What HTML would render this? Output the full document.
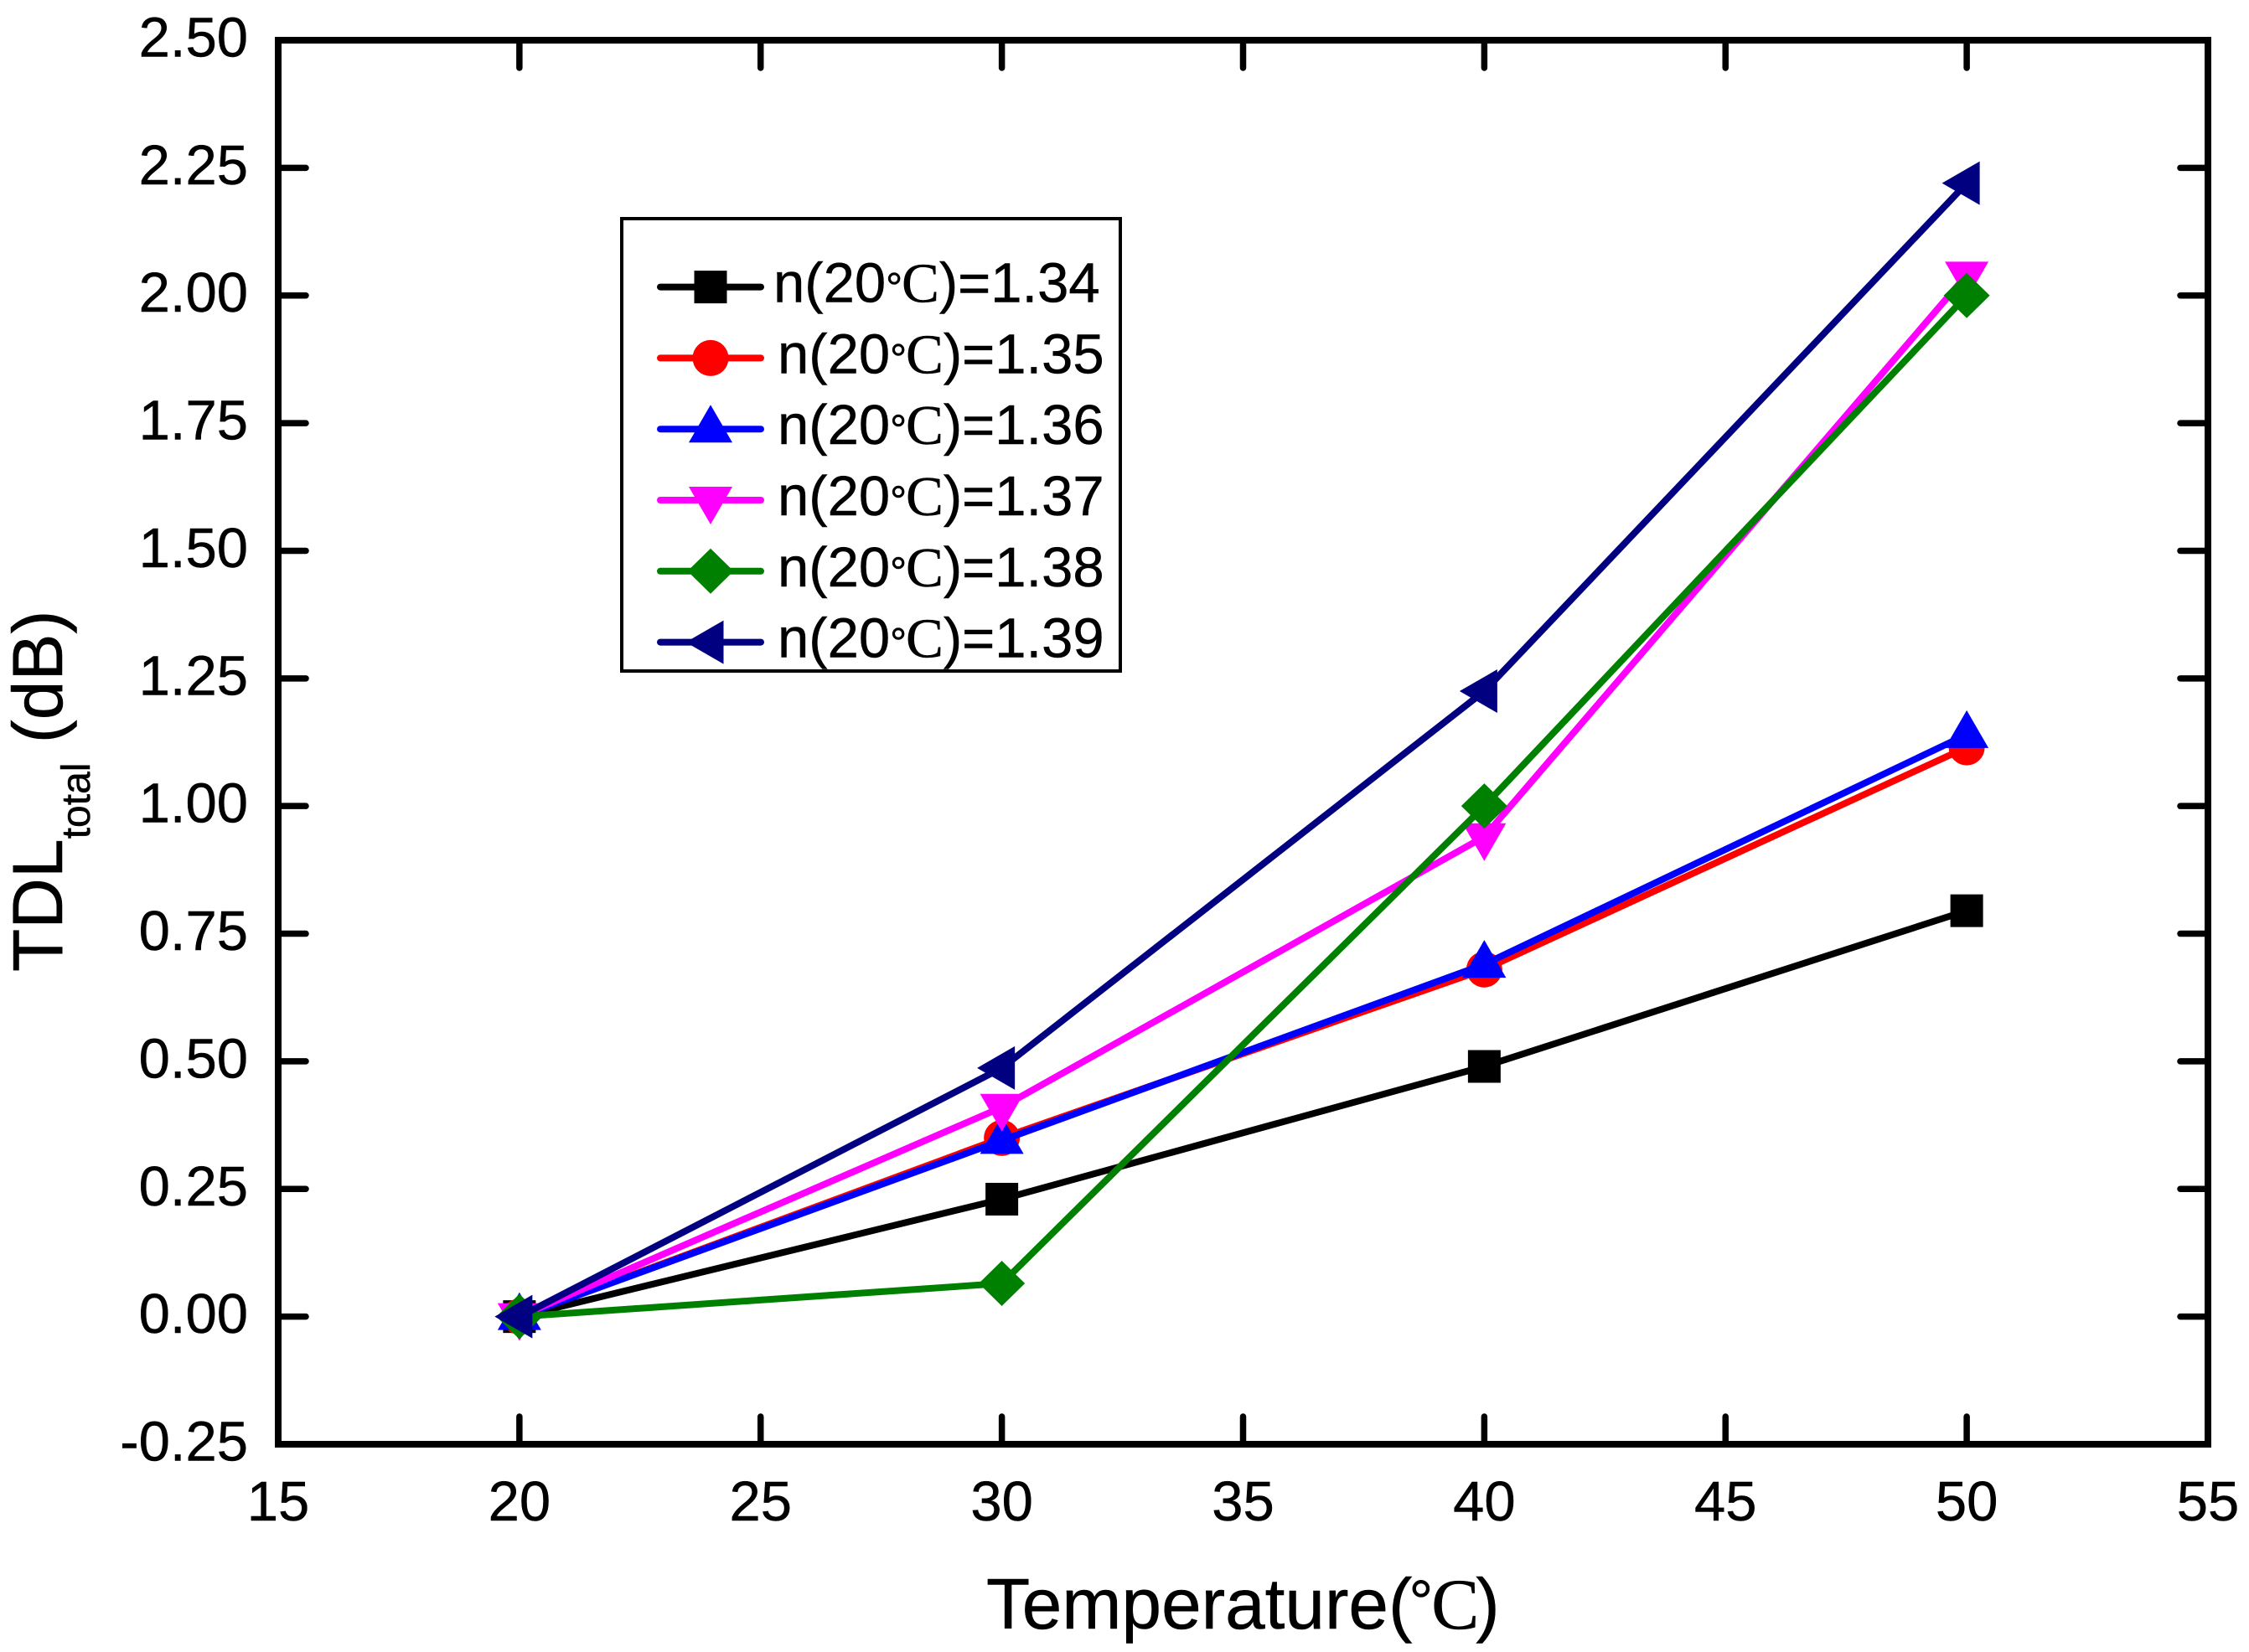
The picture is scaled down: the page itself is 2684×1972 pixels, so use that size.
<!DOCTYPE html>
<html lang="en">
<head>
<meta charset="utf-8">
<title>TDL total vs Temperature</title>
<style>
html,body{margin:0;padding:0;background:#fff}
svg{display:block}
text{font-family:"Liberation Sans",Arial,sans-serif;fill:#000;stroke:#000;stroke-width:.5}
.serif{font-family:"Liberation Serif","Times New Roman",serif}
</style>
</head>
<body>
<svg id="chart" xmlns="http://www.w3.org/2000/svg" width="2684" height="1972" viewBox="0 0 2684 1972">
<rect x="0" y="0" width="2684" height="1972" fill="#fff"/>
<g id="ticks"></g>
<g id="series"></g>
<rect x="332" y="48" width="2303" height="1676" fill="none" stroke="#000" stroke-width="8"/>
<g id="labels"></g>
<text x="1177" y="1944" font-size="85.5">Temperature(<tspan font-size="72" dx="-4" dy="-7">°</tspan><tspan class="serif" dx="-2" dy="7">C</tspan><tspan dx="-4">)</tspan></text>
<text transform="translate(74,1160) rotate(-90)" font-size="84">TDL<tspan font-size="48" dy="33">total</tspan><tspan dy="-33"> (dB)</tspan></text>
<rect x="742" y="261" width="595" height="540" fill="#fff" stroke="#000" stroke-width="4"/>
<g id="legend"></g>
</svg>
<script>
const temperatures = [20, 30, 40, 50];
const seriesN134 = [0, 0.23, 0.49, 0.795];
const seriesN135 = [0, 0.35, 0.68, 1.115];
const seriesN136 = [0, 0.345, 0.69, 1.14];
const seriesN137 = [0, 0.41, 0.94, 2.04];
const seriesN138 = [0, 0.065, 1.00, 2.00];
const seriesN139 = [0, 0.487, 1.225, 2.22];
const seriesValues = [seriesN134, seriesN135, seriesN136, seriesN137, seriesN138, seriesN139];
const seriesLabels = ['1.34', '1.35', '1.36', '1.37', '1.38', '1.39'];
const seriesColors = ['#000000', '#ff0000', '#0000ff', '#ff00ff', '#008000', '#000080'];
const seriesMarkers = ['square', 'circle', 'up', 'down', 'diamond', 'left'];
const xTickLabels = ['15', '20', '25', '30', '35', '40', '45', '50', '55'];
const yTickLabels = ['-0.25', '0.00', '0.25', '0.50', '0.75', '1.00', '1.25', '1.50', '1.75', '2.00', '2.25', '2.50'];

const NS = 'http://www.w3.org/2000/svg';
const plotLeft = 332, plotRight = 2635, plotTop = 48, plotBottom = 1724;
const xMin = 15, xMax = 55, yMin = -0.25, yMax = 2.5;
function xScale(v) { return plotLeft + (v - xMin) / (xMax - xMin) * (plotRight - plotLeft); }
function yScale(v) { return plotBottom - (v - yMin) / (yMax - yMin) * (plotBottom - plotTop); }
function make(tag, attrs, parent) {
  const el = document.createElementNS(NS, tag);
  for (const k in attrs) el.setAttribute(k, attrs[k]);
  parent.appendChild(el);
  return el;
}
function marker(kind, x, y, color, parent) {
  let el;
  if (kind === 'square') {
    el = make('rect', { x: x - 19.5, y: y - 19.5, width: 39, height: 39, fill: color }, parent);
  } else if (kind === 'circle') {
    el = make('circle', { cx: x, cy: y, r: 21.5, fill: color }, parent);
  } else {
    let pts;
    if (kind === 'up') pts = [[0, -29], [26, 16], [-26, 16]];
    if (kind === 'down') pts = [[0, 29], [26, -16], [-26, -16]];
    if (kind === 'diamond') pts = [[0, -27], [27.5, 0], [0, 27], [-27.5, 0]];
    if (kind === 'left') pts = [[-29.5, 0], [15.5, -26], [15.5, 26]];
    el = make('polygon', { points: pts.map(p => (x + p[0]) + ',' + (y + p[1])).join(' '), fill: color }, parent);
  }
  return el;
}

const tickGroup = document.getElementById('ticks');
const labelGroup = document.getElementById('labels');
const tickLen = 33;
xTickLabels.forEach(function (lab) {
  const x = xScale(parseFloat(lab));
  [[plotBottom, plotBottom - tickLen], [plotTop, plotTop + tickLen]].forEach(function (seg) {
    const t = make('line', { x1: x, x2: x, y1: seg[0], y2: seg[1], stroke: '#000', 'stroke-width': 7.5, 'stroke-linecap': 'round' }, tickGroup);
    
    
  });
  const tx = make('text', { x: x, y: 1815, 'font-size': 67, 'text-anchor': 'middle' }, labelGroup);
  tx.textContent = lab;
  
  
});
yTickLabels.forEach(function (lab) {
  const y = yScale(parseFloat(lab));
  [[plotLeft, plotLeft + tickLen], [plotRight, plotRight - tickLen]].forEach(function (seg) {
    const t = make('line', { x1: seg[0], x2: seg[1], y1: y, y2: y, stroke: '#000', 'stroke-width': 7.5, 'stroke-linecap': 'round' }, tickGroup);
    
    
  });
  const tx = make('text', { x: 296, y: y + 19.5, 'font-size': 67, 'text-anchor': 'end' }, labelGroup);
  tx.textContent = lab;
  
  
});

const seriesGroup = document.getElementById('series');
seriesValues.forEach(function (values, i) {
  const g = make('g', {}, seriesGroup);
  
  
  const pts = values.map(function (v, j) { return xScale(temperatures[j]) + ',' + yScale(v); }).join(' ');
  const line = make('polyline', { points: pts, fill: 'none', stroke: seriesColors[i], 'stroke-width': 8, 'stroke-linejoin': 'round' }, g);
  
  
  values.forEach(function (v, j) {
    const m = marker(seriesMarkers[i], xScale(temperatures[j]), yScale(v), seriesColors[i], g);
    
    
  });
});

const legendGroup = document.getElementById('legend');
const legendFirstY = 342.6, legendStep = 84.8;
seriesLabels.forEach(function (lab, i) {
  const y = legendFirstY + i * legendStep;
  const g = make('g', {}, legendGroup);
  
  
  const ln = make('line', { x1: 788, x2: 908, y1: y, y2: y, stroke: seriesColors[i], 'stroke-width': 8, 'stroke-linecap': 'round' }, g);
  
  
  const m = marker(seriesMarkers[i], 848, y, seriesColors[i], g);
  
  
  const t = make('text', { x: i === 0 ? 923 : 928, y: y + 18, 'font-size': 67 }, g);
  
  
  t.appendChild(document.createTextNode('n(20'));
  const deg = make('tspan', { 'font-size': 50 }, t);
  deg.textContent = '°';
  const c = make('tspan', { class: 'serif', dx: -1 }, t);
  c.textContent = 'C';
  const rest = make('tspan', { dx: 0 }, t);
  rest.textContent = ')=' + lab;
});
</script>
</body>
</html>
